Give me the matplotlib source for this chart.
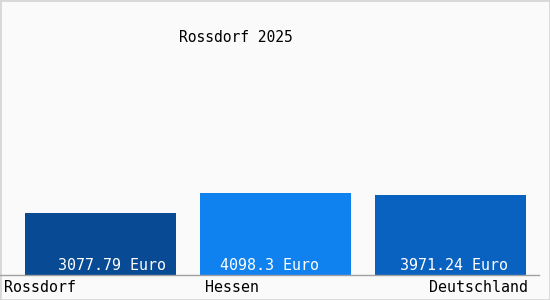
import matplotlib
matplotlib.use("Agg")
import matplotlib.pyplot as plt
from matplotlib.lines import Line2D
from matplotlib.patches import Rectangle

# ── Data ─────────────────────────────────────────────────────────────────────
title = "Rossdorf 2025"
regions = ["Rossdorf", "Hessen", "Deutschland"]
values = [3077.79, 4098.3, 3971.24]
value_labels = ["3077.79 Euro", "4098.3 Euro", "3971.24 Euro"]
bar_colors = ["#084a94", "#0f82f0", "#0a62c0"]

W, H = 550, 300
FONT = "DejaVu Sans Mono"

fig = plt.figure(figsize=(W / 100, H / 100), dpi=100)
fig.patch.set_facecolor("#fafafa")

# axes: full width, baseline at y=275px, 175px per category
baseline_px = 275
ax = fig.add_axes([0, (H - baseline_px) / H, 1, baseline_px / H])
ax.set_facecolor("none")
ax.set_xlim(-100.5 / 175, (W - 100.5) / 175)
ax.set_ylim(0, baseline_px / 0.02005)
ax.axis("off")

xs = range(len(values))
ax.bar(xs, values, width=151 / 175, color=bar_colors)

# value labels sit at the bottom of each bar, nudged like the original
label_shift_px = [12, -6, 3]
for x, lab, dx in zip(xs, value_labels, label_shift_px):
    ax.annotate(lab, (x, 0), xytext=(dx, 2), textcoords="offset pixels",
                ha="center", va="bottom", color="white",
                fontsize=10.8, family=FONT)

# baseline
fig.add_artist(Line2D([0, 539 / W], [(H - baseline_px) / H] * 2,
                      color="#a0a0a0", linewidth=1))

# category labels below the baseline
label_y = 1 - 288 / H
fig.text(4 / W, label_y, regions[0], ha="left", va="center",
         fontsize=10.8, family=FONT, color="black")
fig.text(205 / W, label_y, regions[1], ha="left", va="center",
         fontsize=10.8, family=FONT, color="black")
fig.text(528 / W, label_y, regions[2], ha="right", va="center",
         fontsize=10.8, family=FONT, color="black")

fig.text(235.5 / W, 1 - 38 / H, title, ha="center", va="center",
         fontsize=10.5, family=FONT, color="black")

# light border around the whole picture
fig.add_artist(Rectangle((0, 0), 1, 1, transform=fig.transFigure,
                         fill=False, edgecolor="#d8d8d8", linewidth=2))

fig.savefig("out.png", dpi=100, facecolor=fig.get_facecolor())
